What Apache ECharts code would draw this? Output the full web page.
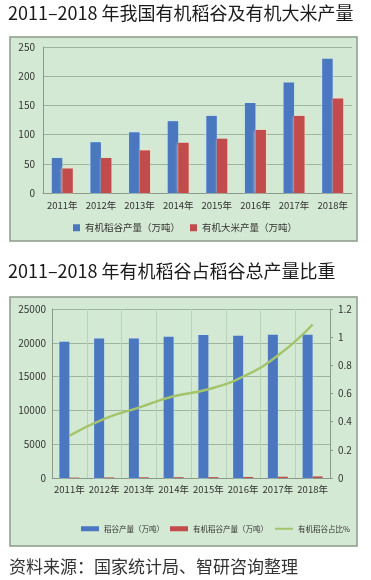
<!DOCTYPE html>
<html><head><meta charset="utf-8">
<script src="https://cdn.jsdelivr.net/npm/echarts@6/dist/echarts.min.js"></script>
<style>html,body{margin:0;padding:0;background:#fff;}#c{width:371px;height:580px;}</style>
</head><body><div id="c"></div>
<script>
const years = ['2011年','2012年','2013年','2014年','2015年','2016年','2017年','2018年'];
const organicPaddy = [60, 87, 104, 123, 132, 154, 189, 230];
const organicRice = [42, 60, 73, 86, 93, 108, 132, 162];
const totalPaddy = [20150, 20650, 20620, 20900, 21150, 21050, 21200, 21200];
const organicShare = [0.30, 0.42, 0.50, 0.58, 0.63, 0.72, 0.87, 1.09];
const topTicks = [0, 50, 100, 150, 200, 250];

const F = '"Noto Sans CJK SC", "Noto Sans", sans-serif';
const BLUE = '#4a77c0', RED = '#c24b4b', GREEN = '#a3c46a';
const GRID = '#9db59d', AX = '#8a9a8a', LBL = '#333';
const chart = echarts.init(document.getElementById('c'), null, {renderer: 'canvas'});
chart.setOption({
  animation: false,
  backgroundColor: '#fff',
  textStyle: {fontFamily: F},
  graphic: [
    {type: 'rect', shape: {x: 10, y: 37, width: 347, height: 204}, style: {fill: '#d4e9d3', stroke: '#8c9a8c', lineWidth: 1.5}, z: -10},
    {type: 'rect', shape: {x: 10, y: 297, width: 347, height: 249}, style: {fill: '#d4e9d3', stroke: '#8c9a8c', lineWidth: 1.5}, z: -10},
    {type: 'text', left: 8, top: 4, style: {text: '2011–2018 年我国有机稻谷及有机大米产量', font: '18px ' + F, fill: '#1a1a1a'}},
    {type: 'text', left: 8, top: 262, style: {text: '2011–2018 年有机稻谷占稻谷总产量比重', font: '18px ' + F, fill: '#1a1a1a'}},
    {type: 'text', left: 9, top: 558, style: {text: '资料来源：国家统计局、智研咨询整理', font: '17px ' + F, fill: '#333'}}
  ],
  legend: [
    {left: 68, top: 218, itemWidth: 7, itemHeight: 7, itemGap: 10, icon: 'rect',
     textStyle: {fontSize: 9.5, color: LBL, fontFamily: F},
     data: [{name: '有机稻谷产量（万吨）', itemStyle: {color: BLUE}}, {name: '有机大米产量（万吨）', itemStyle: {color: RED}}]},
    {left: 76, top: 520, itemWidth: 18, itemHeight: 5, itemGap: 6,
     textStyle: {fontSize: 7.5, color: LBL, fontFamily: F},
     data: [{name: '稻谷产量（万吨）', icon: 'rect', itemStyle: {color: BLUE}},
            {name: '有机稻谷产量（万吨）', icon: 'rect', itemStyle: {color: RED}},
            {name: '有机稻谷占比%', itemStyle: {opacity: 0}, lineStyle: {color: GREEN, width: 2}}]}
  ],
  grid: [
    {left: 43, right: 19, top: 47, bottom: 387},
    {left: 52, right: 41, top: 309, bottom: 102}
  ],
  xAxis: [
    {type: 'category', gridIndex: 0, data: years,
     axisLine: {lineStyle: {color: AX}}, axisTick: {lineStyle: {color: AX}, length: 4},
     axisLabel: {color: LBL, fontSize: 9.5, margin: 8, interval: 0}},
    {type: 'category', gridIndex: 1, data: years,
     axisLine: {lineStyle: {color: AX}}, axisTick: {lineStyle: {color: AX}, length: 4},
     splitLine: {show: true, lineStyle: {color: '#b9d3b9'}},
     axisLabel: {color: LBL, fontSize: 9.5, margin: 7, interval: 0}}
  ],
  yAxis: [
    {type: 'value', gridIndex: 0, min: topTicks[0], max: topTicks[topTicks.length - 1], interval: 50,
     axisLine: {show: true, lineStyle: {color: AX}}, axisTick: {show: false},
     splitLine: {lineStyle: {color: GRID}}, axisLabel: {color: LBL, fontSize: 10, margin: 8}},
    {type: 'value', gridIndex: 1, min: 0, max: 25000, interval: 5000,
     axisLine: {show: true, lineStyle: {color: AX}}, axisTick: {show: false},
     splitLine: {lineStyle: {color: GRID}},
     axisLabel: {color: LBL, fontSize: 10, margin: 6, formatter: v => String(v)}},
    {type: 'value', gridIndex: 1, position: 'right', min: 0, max: 1.2, interval: 0.2,
     axisLine: {show: true, lineStyle: {color: AX}}, axisTick: {show: true, lineStyle: {color: AX}, length: 3},
     splitLine: {show: false}, axisLabel: {color: LBL, fontSize: 10, margin: 8, formatter: v => String(+v.toFixed(1))}}
  ],
  series: [
    {name: '有机稻谷产量（万吨）', type: 'bar', xAxisIndex: 0, yAxisIndex: 0, data: organicPaddy,
     barWidth: 10.5, barGap: '0%', itemStyle: {color: BLUE, shadowColor: 'rgba(190,235,255,0.9)', shadowBlur: 3}},
    {name: '有机大米产量（万吨）', type: 'bar', xAxisIndex: 0, yAxisIndex: 0, data: organicRice,
     barWidth: 10.5, barGap: '0%', itemStyle: {color: RED, shadowColor: 'rgba(255,220,200,0.9)', shadowBlur: 3}},
    {name: '稻谷产量（万吨）', type: 'bar', xAxisIndex: 1, yAxisIndex: 1, data: totalPaddy,
     barWidth: 10, barGap: '0%', itemStyle: {color: BLUE, shadowColor: 'rgba(190,235,255,0.9)', shadowBlur: 3}},
    {name: '有机稻谷产量（万吨）', type: 'bar', xAxisIndex: 1, yAxisIndex: 1, data: organicPaddy,
     barWidth: 10, barGap: '0%', itemStyle: {color: RED}},
    {name: '有机稻谷占比%', type: 'line', xAxisIndex: 1, yAxisIndex: 2, data: organicShare,
     smooth: true, symbol: 'none', lineStyle: {color: GREEN, width: 2.5}, itemStyle: {color: GREEN}}
  ]
});
</script></body></html>
